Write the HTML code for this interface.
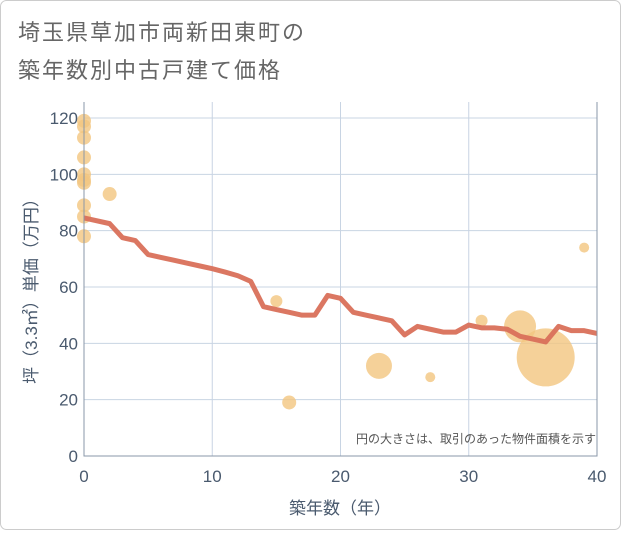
<!DOCTYPE html>
<html><head><meta charset="utf-8"><style>
body{margin:0;background:#fff}
svg text{font-family:"Liberation Sans","Noto Sans CJK JP",sans-serif}
</style></head><body>
<svg width="621" height="530" xmlns="http://www.w3.org/2000/svg" id="chart">
<rect x="0.5" y="0.5" width="620" height="529" rx="6" fill="#fff" stroke="#ccc"/>
<text x="18" y="40" font-size="22" letter-spacing="2" fill="#666">埼玉県草加市両新田東町の</text>
<text x="18" y="78" font-size="22" letter-spacing="2" fill="#666">築年数別中古戸建て価格</text>
<g id="grid"></g>
<g id="bubbles"></g>
<g id="line"></g>
<g id="axes"></g>
<text x="596" y="443" font-size="12" fill="#555" text-anchor="end">円の大きさは、取引のあった物件面積を示す</text>
<text x="340" y="514" font-size="17" fill="#4a5a6e" text-anchor="middle">築年数（年）</text>
<text transform="translate(37,287) rotate(-90)" font-size="17" fill="#4a5a6e" text-anchor="middle">坪（3.3㎡）単価（万円）</text>
</svg>
<script>
const xTicks=[0,10,20,30,40];
const yTicks=[0,20,40,60,80,100,120];
const lineYears=[0,2,3,4,5,6,7,8,9,10,11,12,13,14,15,16,17,18,19,20,21,22,23,24,25,26,27,28,29,30,31,32,33,34,35,36,37,38,39,40];
const lineValues=[84.5,82.5,77.5,76.5,71.5,70.5,69.5,68.5,67.5,66.5,65.3,64,62,53,52,51,50,50,57,56,51,50,49,48,43,46,45,44,44,46.5,45.5,45.5,45,42.5,41.5,40.5,46,44.5,44.5,43.5];
const bubbleYears=[0,0,0,0,0,0,0,0,0,0,2,15,16,23,27,31,34,36,39];
const bubbleValues=[119,117,113,106,100,98,97,89,85,78,93,55,19,32,28,48,46,35,74];
const bubbleSizes=[7,7,7,7,7,7,7,7,7,7,7,6,7,13,5,6,16,29,5];
const ns="http://www.w3.org/2000/svg";
const X0=84,X1=597,Y0=456,Y1=118;
const xs=v=>X0+(v-0)/(40-0)*(X1-X0);
const ys=v=>Y0-(v-0)/(120-0)*(Y0-Y1);
function mk(t,a,p){const e=document.createElementNS(ns,t);for(const k in a)e.setAttribute(k,a[k]);p.appendChild(e);return e;}
const grid=document.getElementById('grid'),axes=document.getElementById('axes');
for(const t of yTicks){
 const l=mk('line',{x1:X0,x2:X1,y1:ys(t),y2:ys(t),stroke:'#c8d4e3','stroke-width':1},grid);
 
 
 const tx=mk('text',{x:X0-6,y:ys(t)+6,'font-size':17,fill:'#4a5a6e','text-anchor':'end'},axes);
 tx.textContent=t;
 
 
}
for(const t of xTicks){
 const l=mk('line',{x1:xs(t),x2:xs(t),y1:Y1-16,y2:Y0,stroke:'#c8d4e3','stroke-width':1},grid);
 
 
 const tx=mk('text',{x:xs(t),y:Y0+26,'font-size':17,fill:'#4a5a6e','text-anchor':'middle'},axes);
 tx.textContent=t;
 
 
}
const ax=mk('path',{d:`M${X0},${Y1-16}V${Y0}H${X1}V${Y1-16}`,fill:'none',stroke:'#8a97a8','stroke-width':1},axes);


const bg=document.getElementById('bubbles');
bubbleYears.forEach((y,i)=>{
 const c=mk('circle',{cx:xs(y),cy:ys(bubbleValues[i]),r:bubbleSizes[i],fill:'#f3c57f','fill-opacity':0.8},bg);
 
 
});
const pts=lineYears.map((y,i)=>xs(y)+','+ys(lineValues[i])).join(' ');
const pl=mk('polyline',{points:pts,fill:'none',stroke:'#d9705a','stroke-width':5,'stroke-linejoin':'round','stroke-opacity':0.95},document.getElementById('line'));


</script>
</body></html>
